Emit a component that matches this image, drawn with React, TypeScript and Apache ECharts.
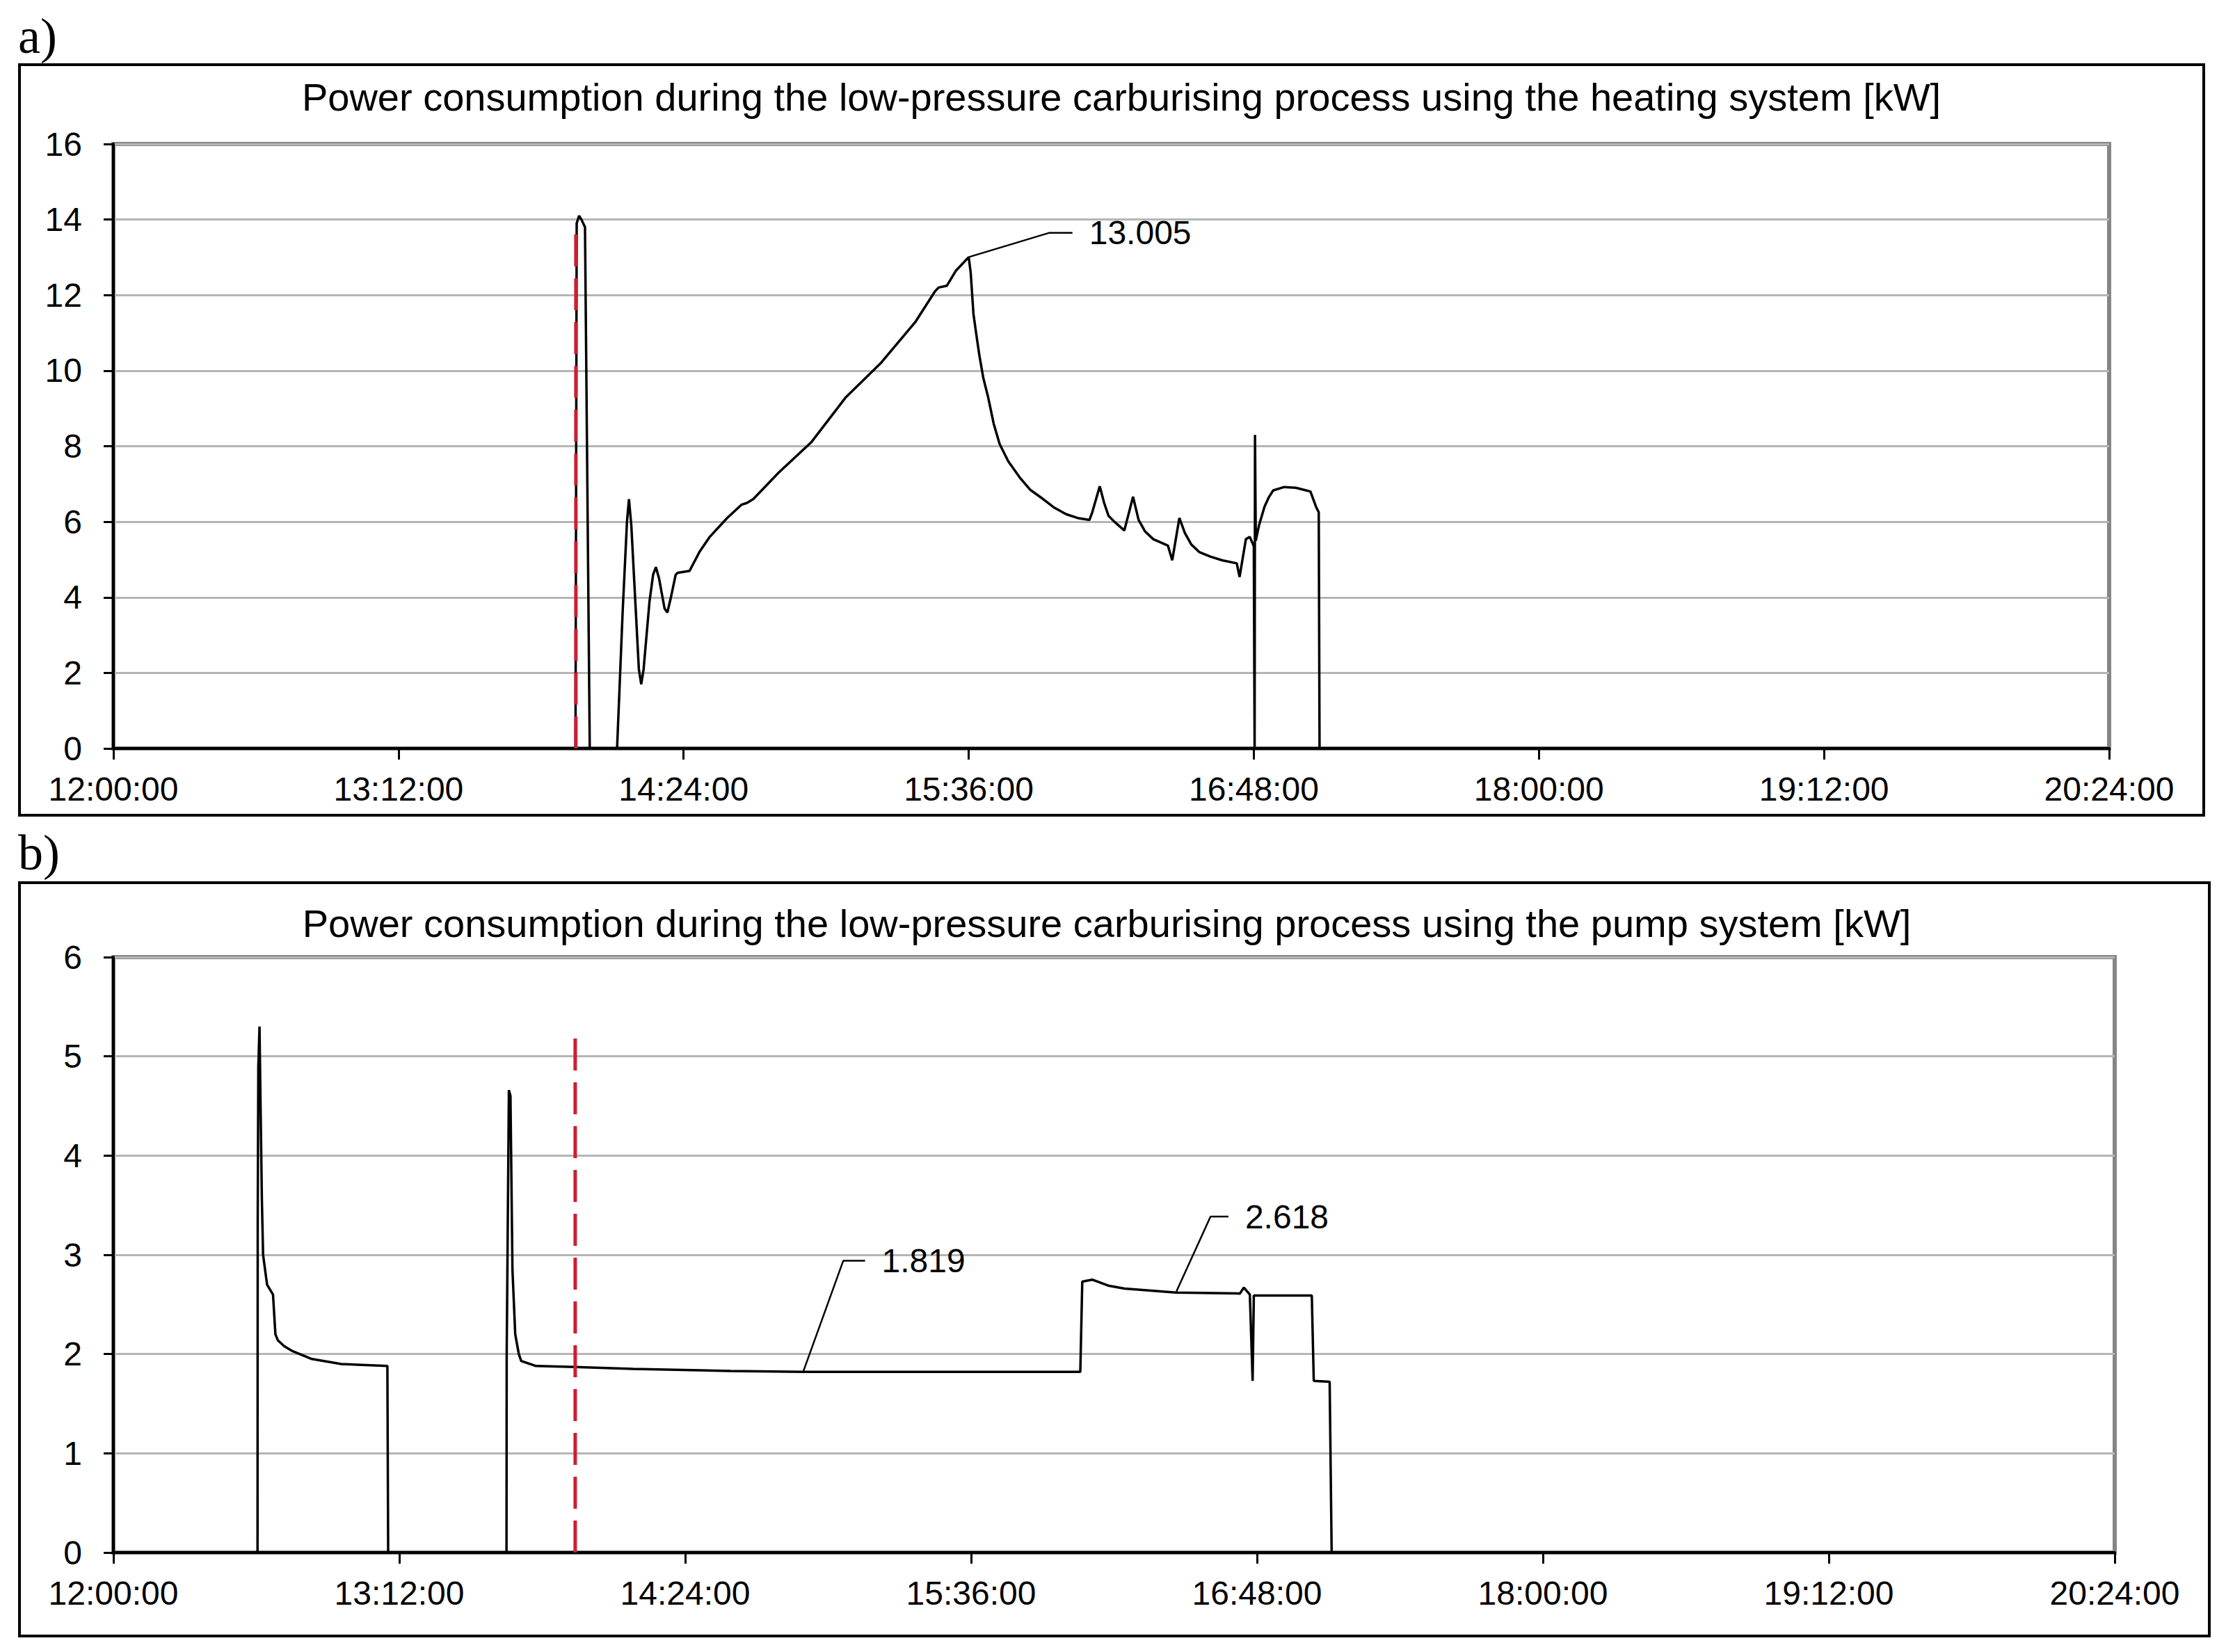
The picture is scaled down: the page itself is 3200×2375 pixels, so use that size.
import React, { useEffect, useRef } from "react";
import * as echarts from "echarts";

// ---- Axis definitions (minutes after 12:00:00) ----
const startMinutes = 12 * 60;
const xMax = 504; // 20:24:00
const xInterval = 72; // 1h12m
const yMaxHeating = 16;
const yIntervalHeating = 2;
const yMaxPump = 6;
const yIntervalPump = 1;

// ---- Titles ----
const titleHeating =
  "Power consumption during the low-pressure carburising process using the heating system [kW]";
const titlePump =
  "Power consumption during the low-pressure carburising process using the pump system [kW]";

// ---- Heating system power [kW] vs minutes after 12:00 ----
const heatingSeries: [number, number][] = [
  [0, 0], [116.7, 0], [117.0, 13.9], [117.6, 14.1], [118.2, 14.0], [119.1, 13.8], [120.3, 0],
  [127.2, 0], [128.6, 3.6], [129.7, 6.0], [130.2, 6.6], [130.8, 5.9], [131.9, 3.7], [132.7, 2.1],
  [133.3, 1.7], [133.9, 2.1], [135.4, 3.9], [136.3, 4.6], [137.0, 4.8], [137.8, 4.5], [139.2, 3.7],
  [139.9, 3.6], [140.8, 4.0], [142.0, 4.6], [142.5, 4.65], [145.5, 4.7],
  [148.0, 5.2], [150.6, 5.6], [155.0, 6.1], [158.6, 6.45], [160.0, 6.5], [161.6, 6.6], [168.0, 7.3],
  [176.2, 8.1], [185.0, 9.3], [193.8, 10.2], [202.6, 11.3], [207.5, 12.1], [208.4, 12.2],
  [210.5, 12.25], [212.8, 12.65], [216.0, 13.005], [216.5, 12.6], [217.2, 11.5], [218.0, 10.9],
  [218.7, 10.4], [219.7, 9.8], [220.9, 9.3], [222.3, 8.6], [223.8, 8.06], [226.0, 7.6],
  [228.9, 7.17], [231.5, 6.85], [234.8, 6.6], [237.5, 6.38], [240.6, 6.2], [243.5, 6.1],
  [246.5, 6.05], [247.2, 6.25], [249.1, 6.94], [250.2, 6.5], [251.3, 6.16], [252.8, 6.0],
  [255.3, 5.77], [257.5, 6.66], [258.9, 6.05], [260.5, 5.75], [262.6, 5.54], [266.3, 5.37],
  [267.4, 4.98], [269.2, 6.1], [270.6, 5.7], [272.2, 5.4], [274.2, 5.2], [277.0, 5.08],
  [280.0, 4.98], [283.7, 4.9], [284.4, 4.54], [286.0, 5.54], [287.0, 5.6], [288.0, 5.35],
  [288.2, 0], [288.3, 8.3], [288.5, 5.5], [289.3, 5.9], [290.7, 6.4], [291.8, 6.65],
  [292.9, 6.83], [295.7, 6.92], [298.6, 6.9], [300.5, 6.85], [302.3, 6.8], [303.7, 6.4],
  [304.4, 6.25], [304.6, 0], [504, 0],
];

// ---- Pump system power [kW] vs minutes after 12:00 ----
const pumpSeries: [number, number][] = [
  [0, 0], [36.3, 0], [36.35, 3.35], [36.5, 4.9], [36.8, 5.3], [37.1, 4.4], [37.4, 3.55],
  [37.7, 3.0], [38.7, 2.7], [40.2, 2.6], [40.8, 2.2], [41.4, 2.14], [43.0, 2.08], [45.1, 2.03],
  [50.0, 1.95], [57.4, 1.9], [69.0, 1.88], [69.2, 0], [99.0, 0], [99.05, 2.0], [99.6, 4.66],
  [100.0, 4.6], [100.5, 2.85], [101.2, 2.2], [102.1, 2.0], [102.7, 1.93], [106.4, 1.88],
  [116.2, 1.87], [130.9, 1.85], [155.4, 1.83], [173.7, 1.82], [200.0, 1.82], [243.5, 1.82],
  [244.0, 2.73], [246.5, 2.75], [250.5, 2.69], [254.6, 2.66], [267.6, 2.62], [283.7, 2.61],
  [284.7, 2.67], [286.2, 2.6], [286.9, 1.73], [287.2, 2.59], [301.8, 2.59], [302.3, 1.73],
  [306.3, 1.72], [306.8, 0], [504, 0],
];

// ---- Process-start markers (red dashed) ----
const markerHeating: [number, number][] = [[116.8, 0], [116.8, 13.85]];
const markerPump: [number, number][] = [[116.3, 0], [116.3, 5.2]];

// ---- Annotation leaders: [point on curve, elbow, end] ----
const annotHeatingText = "13.005";
const annotHeating: [number, number][] = [[216.0, 13.005], [236.4, 13.65], [242.2, 13.65]];
const annotPump1Text = "1.819";
const annotPump1: [number, number][] = [[173.7, 1.82], [183.8, 2.94], [189.3, 2.94]];
const annotPump2Text = "2.618";
const annotPump2: [number, number][] = [[267.7, 2.63], [276.3, 3.385], [280.8, 3.385]];

const SANS = "'Liberation Sans', Arial, Helvetica, sans-serif";
const SERIF = "'Liberation Serif', 'Times New Roman', serif";

function fmtTime(v: number): string {
  const total = startMinutes + Math.round(v);
  const h = Math.floor(total / 60);
  const m = total % 60;
  return `${h}:${String(m).padStart(2, "0")}:00`;
}

function xAxisFor(gridIndex: number) {
  return {
    type: "value",
    gridIndex,
    min: 0,
    max: xMax,
    interval: xInterval,
    axisLine: { show: true, onZero: false, lineStyle: { color: "#000", width: 4 } },
    axisTick: { show: true, length: 16, lineStyle: { color: "#000", width: 3 } },
    axisLabel: {
      show: true,
      margin: 34,
      fontSize: 48,
      fontFamily: SANS,
      color: "#000",
      formatter: fmtTime,
      showMinLabel: true,
      showMaxLabel: true,
    },
    splitLine: { show: false },
  };
}

function yAxisFor(gridIndex: number, max: number, interval: number) {
  return {
    type: "value",
    gridIndex,
    min: 0,
    max,
    interval,
    axisLine: { show: true, onZero: false, lineStyle: { color: "#000", width: 4 } },
    axisTick: { show: true, length: 14, lineStyle: { color: "#000", width: 3 } },
    axisLabel: {
      show: true,
      margin: 45,
      fontSize: 48,
      fontFamily: SANS,
      color: "#000",
    },
    splitLine: { show: true, lineStyle: { color: "#b5b5b5", width: 3 } },
  };
}

function curve(idx: number, data: [number, number][]) {
  return {
    type: "line",
    xAxisIndex: idx,
    yAxisIndex: idx,
    data,
    symbol: "none",
    showSymbol: false,
    lineStyle: { color: "#000", width: 3.5 },
    z: 3,
  };
}

function marker(idx: number, data: [number, number][]) {
  return {
    type: "line",
    xAxisIndex: idx,
    yAxisIndex: idx,
    data,
    symbol: "none",
    showSymbol: false,
    lineStyle: { color: "#cc1f2f", width: 5, type: [46, 17] },
    z: 4,
  };
}

function leader(idx: number, data: [number, number][], text: string) {
  return {
    type: "line",
    xAxisIndex: idx,
    yAxisIndex: idx,
    data,
    symbol: "none",
    showSymbol: false,
    lineStyle: { color: "#000", width: 2.5 },
    endLabel: {
      show: true,
      formatter: () => text,
      distance: 24,
      fontSize: 48,
      fontFamily: SANS,
      color: "#000",
    },
    z: 5,
  };
}

export default function App() {
  const ref = useRef<HTMLDivElement>(null);

  useEffect(() => {
    if (!ref.current) return;
    const chart = echarts.init(ref.current, undefined, { renderer: "svg" });
    const option: any = {
      animation: false,
      backgroundColor: "#ffffff",
      grid: [
        { left: 163, top: 207, width: 2869, height: 869, show: true, borderColor: "#858585", borderWidth: 6, backgroundColor: "transparent" },
        { left: 163, top: 1376, width: 2877, height: 856, show: true, borderColor: "#858585", borderWidth: 6, backgroundColor: "transparent" },
      ],
      xAxis: [xAxisFor(0), xAxisFor(1)],
      yAxis: [yAxisFor(0, yMaxHeating, yIntervalHeating), yAxisFor(1, yMaxPump, yIntervalPump)],
      series: [
        curve(0, heatingSeries),
        marker(0, markerHeating),
        leader(0, annotHeating, annotHeatingText),
        curve(1, pumpSeries),
        marker(1, markerPump),
        leader(1, annotPump1, annotPump1Text),
        leader(1, annotPump2, annotPump2Text),
      ],
      graphic: [
        { type: "rect", shape: { x: 28, y: 93, width: 3140, height: 1079 }, style: { fill: "none", stroke: "#000", lineWidth: 4 }, z: 0 },
        { type: "rect", shape: { x: 28, y: 1269, width: 3148, height: 1083 }, style: { fill: "none", stroke: "#000", lineWidth: 4 }, z: 0 },
        { type: "text", x: 1612, y: 139, style: { text: titleHeating, fontSize: 56, fontFamily: SANS, fill: "#000", textAlign: "center", textVerticalAlign: "middle" } },
        { type: "text", x: 1591, y: 1327, style: { text: titlePump, fontSize: 56, fontFamily: SANS, fill: "#000", textAlign: "center", textVerticalAlign: "middle" } },
        { type: "text", x: 26, y: 52, style: { text: "a)", fontSize: 72, fontFamily: SERIF, fill: "#000", textAlign: "left", textVerticalAlign: "middle" } },
        { type: "text", x: 26, y: 1226, style: { text: "b)", fontSize: 72, fontFamily: SERIF, fill: "#000", textAlign: "left", textVerticalAlign: "middle" } },
      ],
    };
    chart.setOption(option);
    return () => chart.dispose();
  }, []);

  return (
    <div
      ref={ref}
      style={{ position: "absolute", left: 0, top: 0, width: 3200, height: 2375, background: "#fff" }}
    />
  );
}
